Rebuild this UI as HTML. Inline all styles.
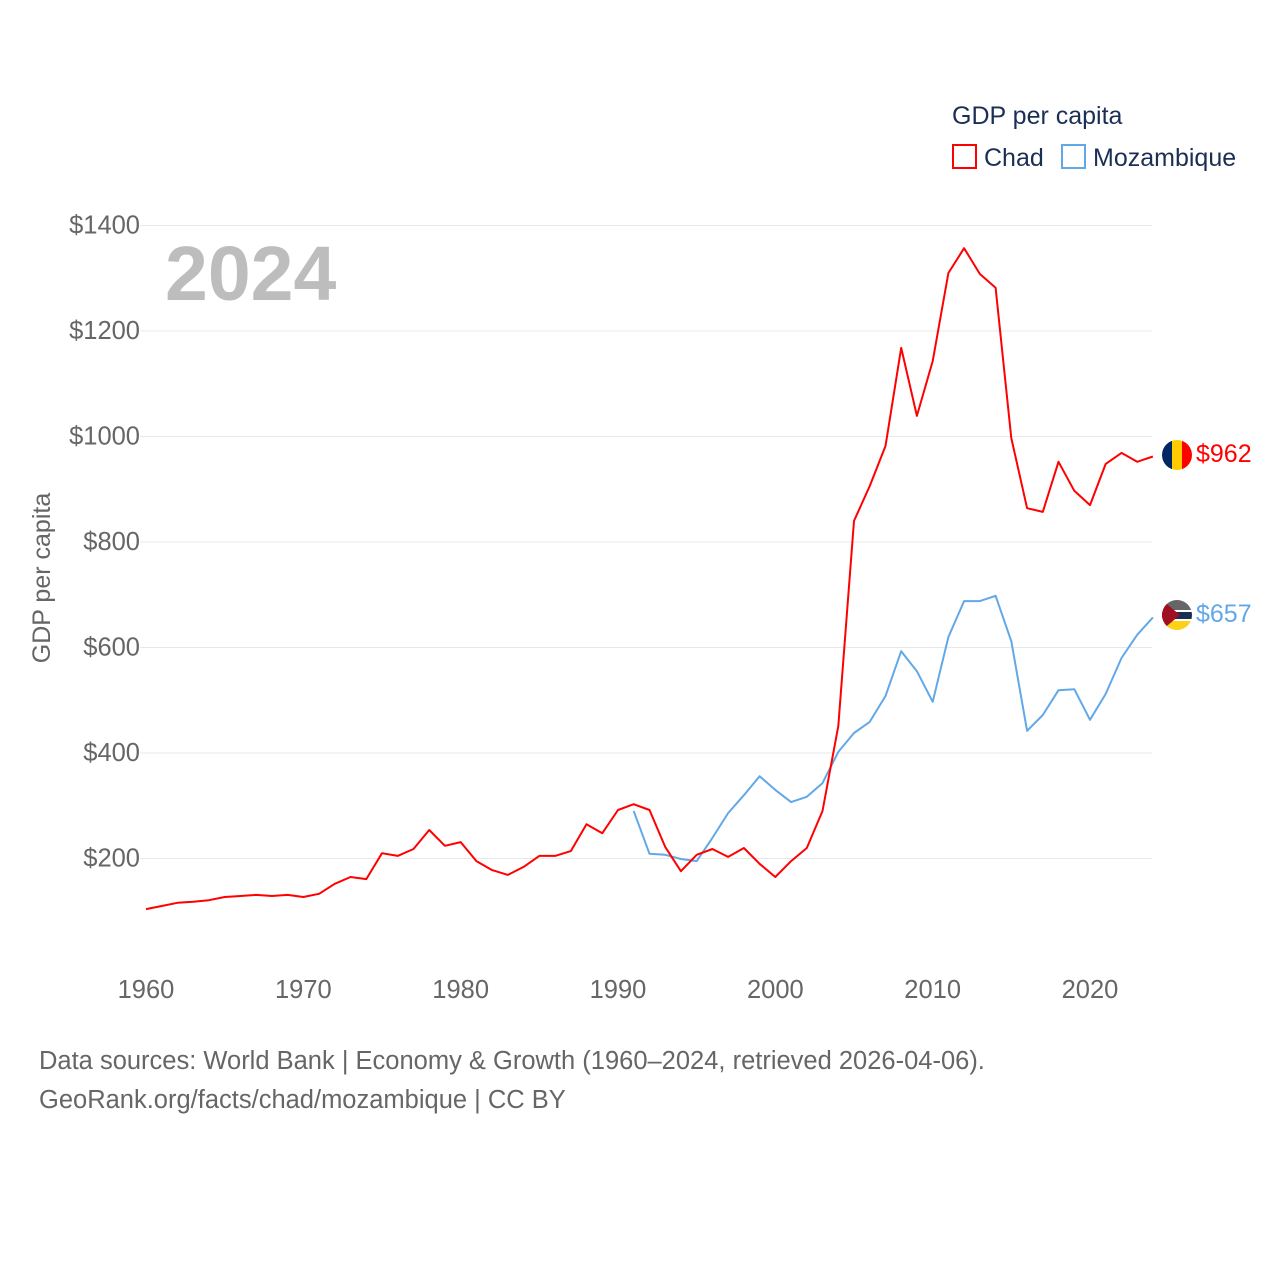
<!DOCTYPE html>
<html><head><meta charset="utf-8"><style>
html,body{margin:0;padding:0;background:#fff;}
svg text{font-family:"Liberation Sans",sans-serif;}
</style></head><body>
<svg id="chart" width="1280" height="1280" viewBox="0 0 1280 1280" xmlns="http://www.w3.org/2000/svg">
<defs>
<clipPath id="c1"><circle cx="1177" cy="455" r="15"/></clipPath>
<clipPath id="c2"><circle cx="1177" cy="615" r="15"/></clipPath>
</defs>
<g id="grid"></g>
<g id="yticks"></g>
<g id="xticks"></g>
<text x="165" y="300" font-size="77" font-weight="bold" fill="#bdbdbd">2024</text>
<text transform="translate(50,578) rotate(-90)" text-anchor="middle" font-size="25" fill="#666">GDP per capita</text>
<g id="series"></g>
<g>
<text x="952" y="124" font-size="25" fill="#1b2f55">GDP per capita</text>
<rect x="953" y="145" width="23" height="23" fill="none" stroke="#f00" stroke-width="2"/>
<text x="984" y="166" font-size="25" fill="#1b2f55">Chad</text>
<rect x="1062" y="145" width="23" height="23" fill="none" stroke="#62a8e8" stroke-width="2"/>
<text x="1093" y="166" font-size="25" fill="#1b2f55">Mozambique</text>
</g>
<g clip-path="url(#c1)">
<rect x="1162" y="440" width="10" height="30" fill="#002664"/>
<rect x="1172" y="440" width="10" height="30" fill="#fecb00"/>
<rect x="1182" y="440" width="10" height="30" fill="#f00"/>
</g>
<g clip-path="url(#c2)">
<rect x="1162" y="600" width="30" height="10" fill="#666"/>
<rect x="1162" y="610" width="30" height="2" fill="#fff"/>
<rect x="1162" y="612" width="30" height="7" fill="#1b2f55"/>
<rect x="1162" y="619" width="30" height="2" fill="#fff"/>
<rect x="1162" y="621" width="30" height="9" fill="#fcd116"/>
<polygon points="1162,600 1180,615 1162,630" fill="#a01020"/>
</g>
<text x="1196" y="462" font-size="25" fill="#f00">$962</text>
<text x="1196" y="622" font-size="25" fill="#62a8e8">$657</text>
<text x="39" y="1069" font-size="25.5" fill="#666">Data sources: World Bank | Economy &amp; Growth (1960–2024, retrieved 2026-04-06).</text>
<text x="39" y="1108" font-size="25.5" fill="#666">GeoRank.org/facts/chad/mozambique | CC BY</text>
</svg>
<script>
const chadStart = 1960;
const chadValues = [104,110,116,118,121,127,129,131,129,131,127,133,152,165,161,210,205,218,254,224,231,195,178,169,184,205,205,214,265,248,292,303,292,222,176,207,218,203,220,190,165,195,220,290,451,840,906,982,1168,1039,1143,1310,1357,1308,1282,997,864,857,952,897,870,948,969,952,962];
const mozStart = 1991;
const mozValues = [290,209,207,199,195,239,286,320,356,330,307,317,343,402,438,459,508,593,555,497,620,688,688,698,612,442,472,519,521,463,512,580,624,657];
const yTicks = [200,400,600,800,1000,1200,1400];
const xTicks = [1960,1970,1980,1990,2000,2010,2020];

const NS = "http://www.w3.org/2000/svg";
function xScale(yr){ return 146 + (yr-1960)*(1090-146)/60; }
function yScale(v){ return 964 - v*(105.5/200); }
function mk(tag, attrs, parent, txt){
  const e = document.createElementNS(NS, tag);
  for (const k in attrs) e.setAttribute(k, attrs[k]);
  if (txt !== undefined) e.textContent = txt;
  parent.appendChild(e); return e;
}
const grid = document.getElementById('grid');
const yt = document.getElementById('yticks');
const xt = document.getElementById('xticks');
const ser = document.getElementById('series');
yTicks.forEach(v=>{
  const l = mk('line',{x1:140,x2:1152,y1:yScale(v),y2:yScale(v),stroke:'#e8e8e8','stroke-width':1},grid);
  
  
  const t = mk('text',{x:140,y:yScale(v)+8,'text-anchor':'end','font-size':25.5,fill:'#666'},yt,'$'+v);
  
  
});
xTicks.forEach(yr=>{
  const t = mk('text',{x:xScale(yr),y:998,'text-anchor':'middle','font-size':25.5,fill:'#666'},xt,String(yr));
  
  
});
function line(start, vals, color, name){
  const d = vals.map((v,i)=>(i?'L':'M')+xScale(start+i).toFixed(1)+','+yScale(v).toFixed(1)).join(' ');
  const p = mk('path',{d:d,fill:'none',stroke:color,'stroke-width':2,'stroke-linejoin':'round'},ser);
  
  
}
line(mozStart, mozValues, '#62a8e8', 'mozambique-line');
line(chadStart, chadValues, '#f00', 'chad-line');
</script>
</body></html>
